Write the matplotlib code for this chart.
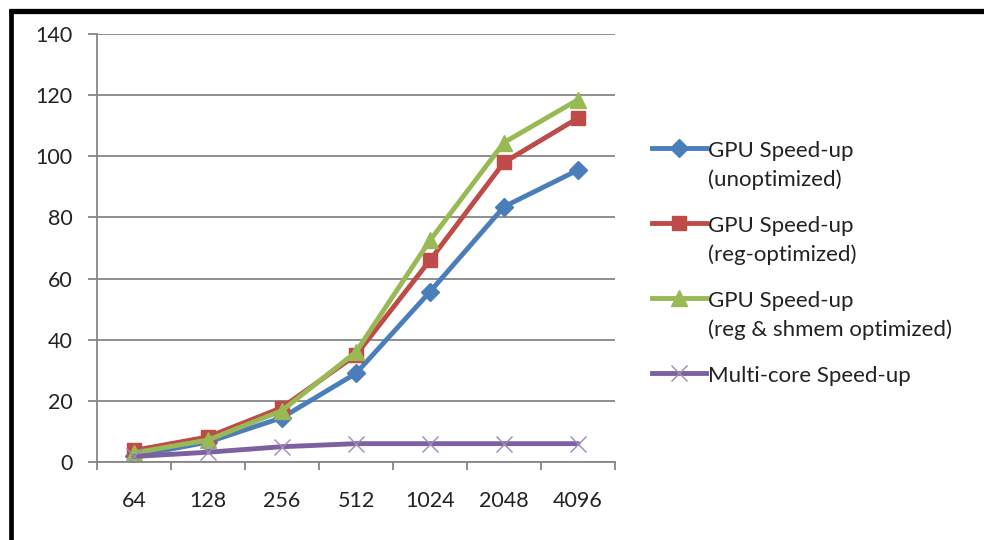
import numpy as np
import matplotlib
matplotlib.use('Agg')
import matplotlib.pyplot as plt

plt.rcParams['font.family'] = ['Lato', 'DejaVu Sans']

sizes = ['64', '128', '256', '512', '1024', '2048', '4096']
gpu_unopt = [2.0, 6.5, 14.5, 29.0, 55.7, 83.5, 95.5]
gpu_reg = [3.8, 8.2, 17.8, 35.0, 66.0, 98.0, 112.5]
gpu_reg_shmem = [3.0, 7.2, 16.8, 36.0, 72.5, 104.5, 118.5]
multicore = [1.8, 3.2, 5.0, 6.0, 6.0, 6.0, 6.0]
labels = ['GPU Speed-up\n(unoptimized)',
          'GPU Speed-up\n(reg-optimized)',
          'GPU Speed-up\n(reg & shmem optimized)',
          'Multi-core Speed-up']

W, H = 984, 540
fig = plt.figure(figsize=(W / 100, H / 100), dpi=100)
fig.patch.set_facecolor('white')

ax = fig.add_axes([97 / W, 1 - 462 / H, (615 - 97) / W, (462 - 34) / H])

styles = [
    dict(color='#4A7EBB', marker='D', ms=9.5, mec='#4A7EBB'),
    dict(color='#BE4B48', marker='s', ms=10.5, mec='#BE4B48'),
    dict(color='#98B954', marker='^', ms=11.5, mec='#98B954'),
    dict(color='#7D60A0', marker='x', ms=11.5, mec='#9C8AB8', mew=1.0),
]
series = [gpu_unopt, gpu_reg, gpu_reg_shmem, multicore]
x = np.arange(len(sizes))
for y, st in zip(series, styles):
    ax.plot(x, y, lw=3.5, solid_capstyle='round', solid_joinstyle='round', **st)

ax.set_xlim(-0.5, len(sizes) - 0.5)
ax.set_ylim(0, 140)
ax.set_yticks(np.arange(0, 141, 20))
ax.set_xticks(x)
ax.set_xticklabels(sizes)
ax.set_xticks(np.arange(-0.5, len(sizes), 1.0), minor=True)
ax.grid(axis='y', color='#868686', lw=1.3)
ax.set_axisbelow(True)
for s in ['top', 'right']:
    ax.spines[s].set_visible(False)
for s in ['left', 'bottom']:
    ax.spines[s].set_color('#868686')
    ax.spines[s].set_linewidth(1.3)
ax.tick_params(axis='y', length=6.5, width=1.3, color='#868686', pad=11,
               labelsize=15.5, labelcolor='#222222')
ax.tick_params(axis='x', which='major', length=0, pad=21,
               labelsize=15.5, labelcolor='#222222')
ax.tick_params(axis='x', which='minor', length=6, width=1.3, color='#868686')

# legend drawn in pixel space on an overlay
lax = fig.add_axes([0, 0, 1, 1], facecolor='none')
lax.set_xlim(0, W)
lax.set_ylim(H, 0)
lax.axis('off')
for i, (lab, st) in enumerate(zip(labels, styles)):
    yy = 148 + 75 * i
    lax.plot([652, 706], [yy, yy], lw=3.5, color=st['color'])
    lax.plot([679], [yy], linestyle='none', marker=st['marker'], ms=st['ms'],
             color=st['color'], mec=st['mec'], mew=st.get('mew', 1.0))
    for j, line in enumerate(lab.split('\n')):
        lax.text(708, yy + 3 + 29 * j, line, fontsize=16, color='#222222',
                 va='center', ha='left')

# black frame on top and left
lax.plot([9, W], [10.5, 10.5], color='black', lw=3.8, solid_capstyle='butt')
lax.plot([11, 11], [8.5, H], color='black', lw=3.4, solid_capstyle='butt')

fig.savefig('out.png', dpi=100, facecolor='white')
